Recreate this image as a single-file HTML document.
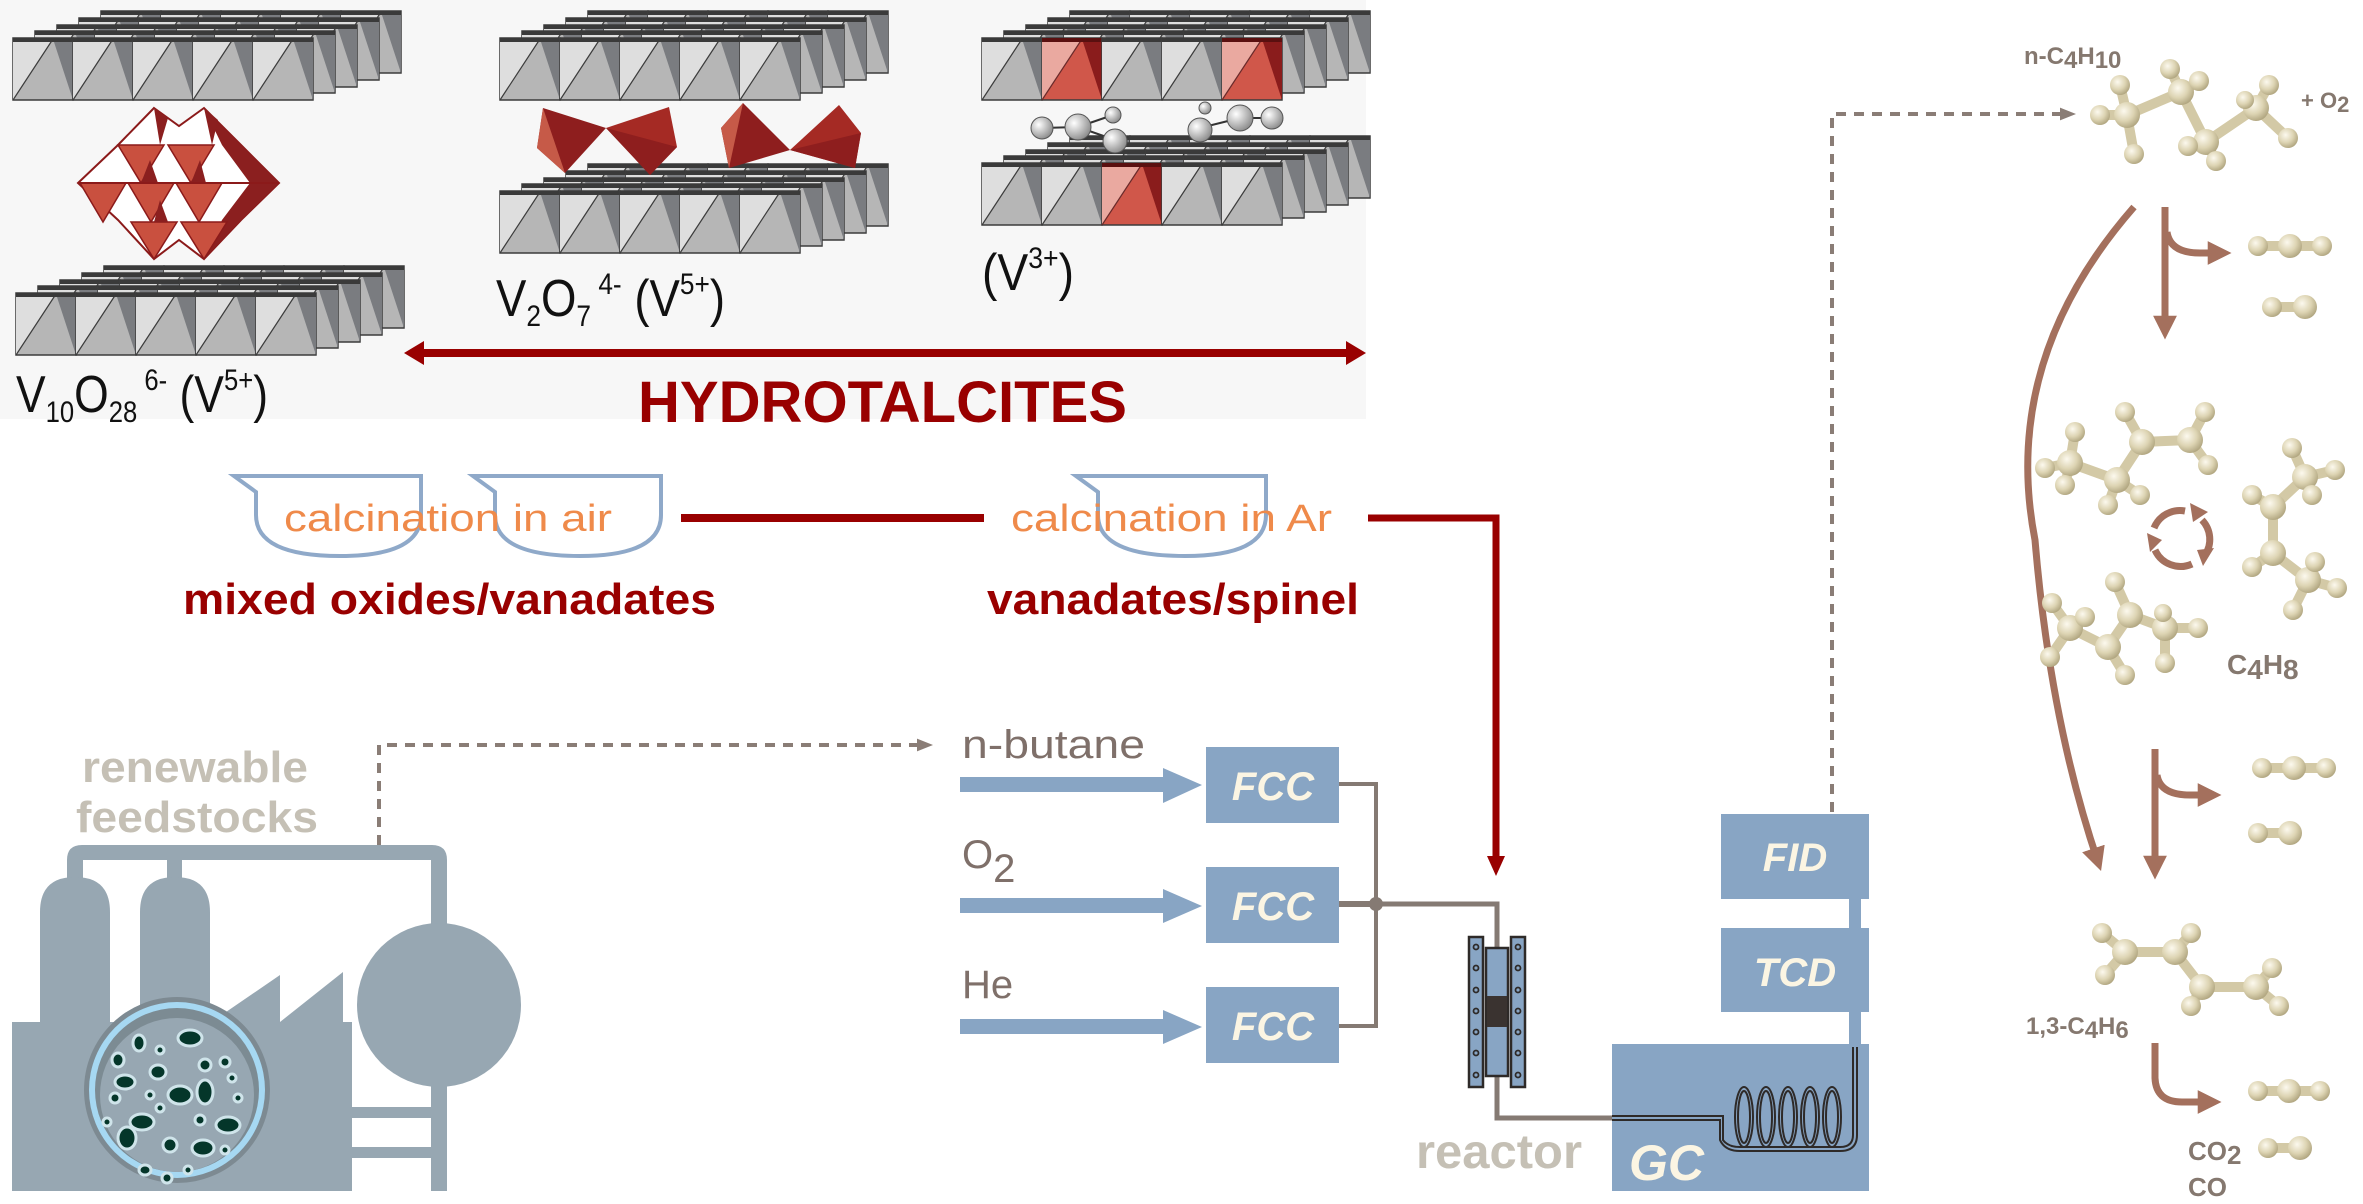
<!DOCTYPE html>
<html><head><meta charset="utf-8"><style>
html,body{margin:0;padding:0;background:#fff}
svg{display:block}
text{font-family:"Liberation Sans",Arial,sans-serif}
</style></head><body>
<svg width="2363" height="1204" viewBox="0 0 2363 1204" xmlns="http://www.w3.org/2000/svg">
<defs>
<g id="b"><rect width="60" height="62" fill="#b6b6b6" stroke="#3c3c3c" stroke-width="1.5"/><polygon points="0,62 0,1 40,1" fill="#dedede"/><polygon points="40,1 60,1 60,62" fill="#7a7c80"/><line x1="0" y1="62" x2="40" y2="1" stroke="#3c3c3c" stroke-width="1.2"/><rect width="60" height="4" fill="#3a3a3a"/></g>
<g id="r"><rect width="60" height="62" fill="#d0574a" stroke="#3c3c3c" stroke-width="1.5"/><polygon points="0,62 0,1 40,1" fill="#eaa9a0"/><polygon points="40,1 60,1 60,62" fill="#8a1c1c"/><line x1="0" y1="62" x2="40" y2="1" stroke="#6a2a2a" stroke-width="1.2"/><rect width="60" height="4" fill="#5a1010"/></g>
<g id="row"><use href="#b"/><use href="#b" x="60"/><use href="#b" x="120"/><use href="#b" x="180"/><use href="#b" x="240"/></g>
<g id="back"><use href="#row" x="88" y="-27"/><use href="#row" x="66" y="-20"/><use href="#row" x="44" y="-13"/><use href="#row" x="22" y="-7"/></g>
<g id="sheet"><use href="#back"/><use href="#row"/></g>
<radialGradient id="a" cx=".38" cy=".35" r=".7"><stop offset="0" stop-color="#fcf9ee"/><stop offset=".55" stop-color="#ddd4b3"/><stop offset="1" stop-color="#ada27c"/></radialGradient>
<radialGradient id="gb" cx=".35" cy=".35" r=".7"><stop offset="0" stop-color="#ffffff"/><stop offset="1" stop-color="#8a8a8a"/></radialGradient>
<marker id="ah" viewBox="0 0 10 10" refX="6" refY="5" markerWidth="3.4" markerHeight="3.4" orient="auto"><path d="M0,0 L10,5 L0,10 Z" fill="#a4705d"/></marker>
<marker id="dh" viewBox="0 0 10 10" refX="5" refY="5" markerWidth="4" markerHeight="4" orient="auto"><path d="M0,1 L10,5 L0,9 Z" fill="#8a7d76"/></marker>
</defs>

<rect x="0" y="0" width="1366" height="419" fill="#f7f7f7"/>

<use href="#sheet" x="13" y="38"/>
<use href="#sheet" x="16" y="293"/>
<use href="#sheet" x="500" y="38"/>
<use href="#sheet" x="500" y="191"/>
<use href="#back" x="982" y="38"/>
<g transform="translate(982,38)"><use href="#b"/><use href="#r" x="60"/><use href="#b" x="120"/><use href="#b" x="180"/><use href="#r" x="240"/></g>

<!-- octahedra cluster -->
<polygon points="154,108 179,126 204,108 241,145 279,183 241,220 204,259 179,240 154,259 118,220 78,183 118,145" fill="#fff" stroke="#8b1a1a" stroke-width="2"/>
<polygon points="204,108 241,145 279,183 241,220 204,259 222,220 250,183 222,145" fill="#8b1f1f"/>
<g fill="#c9503f" stroke="#8b1a1a" stroke-width="1.5">
<polygon points="118,145 164,145 141,183"/><polygon points="168,145 214,145 191,183"/>
<polygon points="80,183 126,183 103,222"/><polygon points="128,183 174,183 151,222"/><polygon points="176,183 222,183 199,222"/>
<polygon points="131,222 177,222 154,259"/><polygon points="181,222 227,222 204,259"/>
</g>
<g fill="#8b1f1f">
<polygon points="154,108 168,118 160,145"/><polygon points="204,108 218,120 212,145"/>
<polygon points="141,183 150,160 158,183"/><polygon points="191,183 200,160 206,183"/>
<polygon points="154,222 160,200 168,222"/>
</g>
<line x1="78" y1="183" x2="279" y2="183" stroke="#8b1a1a" stroke-width="2"/>

<!-- tetrahedra -->
<polygon points="543,108 606,128 565,173 537,148" fill="#8e1e1e"/>
<polygon points="543,108 565,173 537,148" fill="#c65a48"/>
<polygon points="606,128 669,107 677,147 650,175" fill="#a52a24"/>
<polygon points="606,128 677,147 650,175" fill="#8e1e1e"/>
<polygon points="743,103 790,150 729,168 721,128" fill="#8e1e1e"/>
<polygon points="743,103 729,168 721,128" fill="#c65a48"/>
<polygon points="790,150 839,105 861,133 855,168" fill="#a52a24"/>
<polygon points="790,150 861,133 855,168" fill="#8e1e1e"/>

<use href="#back" x="982" y="163"/>
<g transform="translate(982,163)"><use href="#b"/><use href="#b" x="60"/><use href="#r" x="120"/><use href="#b" x="180"/><use href="#b" x="240"/></g>
<g stroke="#333" stroke-width="2"><line x1="1042" y1="128" x2="1078" y2="127"/><line x1="1078" y1="127" x2="1113" y2="115"/><line x1="1078" y1="127" x2="1115" y2="140"/><line x1="1200" y1="128" x2="1240" y2="118"/><line x1="1240" y1="118" x2="1272" y2="118"/></g>
<g fill="url(#gb)" stroke="#555"><circle cx="1042" cy="128" r="11"/><circle cx="1078" cy="127" r="13"/><circle cx="1113" cy="115" r="8"/><circle cx="1115" cy="141" r="12"/><circle cx="1200" cy="130" r="12"/><circle cx="1240" cy="118" r="13"/><circle cx="1272" cy="118" r="11"/><circle cx="1205" cy="108" r="6"/></g>

<text x="16" y="412" font-size="52" fill="#111" textLength="252" lengthAdjust="spacingAndGlyphs">V<tspan font-size="30" dy="10">10</tspan><tspan dy="-10">O</tspan><tspan font-size="30" dy="10">28</tspan><tspan font-size="30" dy="-32"> 6-</tspan><tspan dy="22"> (V</tspan><tspan font-size="30" dy="-22">5+</tspan><tspan dy="22">)</tspan></text>
<text x="496" y="316" font-size="52" fill="#111" textLength="229" lengthAdjust="spacingAndGlyphs">V<tspan font-size="30" dy="10">2</tspan><tspan dy="-10">O</tspan><tspan font-size="30" dy="10">7</tspan><tspan font-size="30" dy="-32"> 4-</tspan><tspan dy="22"> (V</tspan><tspan font-size="30" dy="-22">5+</tspan><tspan dy="22">)</tspan></text>
<text x="982" y="290" font-size="52" fill="#111" textLength="92" lengthAdjust="spacingAndGlyphs">(V<tspan font-size="30" dy="-22">3+</tspan><tspan dy="22">)</tspan></text>

<line x1="415" y1="353" x2="1354" y2="353" stroke="#990000" stroke-width="8"/>
<polygon points="404,353 424,341 424,365" fill="#990000"/>
<polygon points="1366,353 1346,341 1346,365" fill="#990000"/>
<text x="638" y="422" font-size="58" font-weight="bold" fill="#990000" textLength="489" lengthAdjust="spacingAndGlyphs">HYDROTALCITES</text>

<g fill="none" stroke="#8fa9c9" stroke-width="4">
<path d="M234,476 L421,476 L421,515 Q421,556 340,556 Q256,556 256,515 L256,492 Z"/>
<path d="M473,476 L661,476 L661,515 Q661,556 580,556 Q495,556 495,515 L495,492 Z"/>
<path d="M1076,476 L1266,476 L1266,515 Q1266,556 1185,556 Q1098,556 1098,515 L1098,492 Z"/>
</g>
<text x="284" y="531" font-size="38" fill="#ef8a4a" textLength="328" lengthAdjust="spacingAndGlyphs">calcination in air</text>
<text x="1011" y="531" font-size="38" fill="#ef8a4a" textLength="321" lengthAdjust="spacingAndGlyphs">calcination in Ar</text>
<line x1="681" y1="518" x2="984" y2="518" stroke="#990000" stroke-width="8"/>
<polyline points="1368,518 1496,518 1496,860" fill="none" stroke="#990000" stroke-width="7"/>
<polygon points="1487,856 1505,856 1496,876" fill="#990000"/>
<text x="183" y="614" font-size="44" font-weight="bold" fill="#990000" textLength="533" lengthAdjust="spacingAndGlyphs">mixed oxides/vanadates</text>
<text x="987" y="614" font-size="44" font-weight="bold" fill="#990000" textLength="372" lengthAdjust="spacingAndGlyphs">vanadates/spinel</text>

<text x="82" y="782" font-size="44" font-weight="bold" fill="#c5c0b5" textLength="226" lengthAdjust="spacingAndGlyphs">renewable</text>
<text x="76" y="832" font-size="44" font-weight="bold" fill="#c5c0b5" textLength="242" lengthAdjust="spacingAndGlyphs">feedstocks</text>
<polyline points="379,845 379,745 925,745" fill="none" stroke="#8a7d76" stroke-width="4" stroke-dasharray="10,8" marker-end="url(#dh)"/>
<g fill="#97a7b2">
<path d="M67,860 Q67,845 82,845 L432,845 Q447,845 447,860 L447,925 L431,925 L431,860 L182,860 L182,880 L167,880 L167,860 L83,860 L83,880 L67,880 Z"/>
<path d="M40,1030 L40,912 Q40,877 75,877 Q110,877 110,912 L110,1030 Z"/>
<path d="M140,1030 L140,912 Q140,877 175,877 Q210,877 210,912 L210,1030 Z"/>
<path d="M12,1022 L226,1022 L226,1012 L280,975 L280,1022 L343,972 L343,1022 L352,1022 L352,1191 L12,1191 Z"/>
<circle cx="439" cy="1005" r="82"/>
<rect x="431" y="1080" width="16" height="111"/>
<rect x="352" y="1107" width="80" height="11"/>
<rect x="352" y="1147" width="80" height="11"/>
</g>
<circle cx="177" cy="1090" r="93" fill="#7d8a92"/>
<circle cx="177" cy="1090" r="88" fill="#a6d8f2"/>
<circle cx="177" cy="1090" r="82" fill="#7c8b93"/>
<circle cx="177" cy="1095" r="77" fill="#97a7b2"/>
<g fill="#04362a" stroke="#cfe4ea" stroke-width="3">
<ellipse cx="190" cy="1038" rx="12" ry="8"/><ellipse cx="139" cy="1043" rx="6" ry="8"/><ellipse cx="118" cy="1060" rx="6" ry="7"/><ellipse cx="160" cy="1050" rx="4" ry="4"/>
<ellipse cx="125" cy="1082" rx="10" ry="7"/><ellipse cx="158" cy="1072" rx="8" ry="7"/><ellipse cx="205" cy="1092" rx="8" ry="12"/><ellipse cx="180" cy="1095" rx="12" ry="9"/>
<ellipse cx="205" cy="1065" rx="6" ry="6"/><ellipse cx="225" cy="1062" rx="5" ry="5"/><ellipse cx="232" cy="1078" rx="4" ry="4"/>
<ellipse cx="142" cy="1122" rx="12" ry="8"/><ellipse cx="228" cy="1125" rx="12" ry="8"/><ellipse cx="127" cy="1138" rx="9" ry="11"/><ellipse cx="203" cy="1148" rx="11" ry="8"/>
<ellipse cx="170" cy="1145" rx="7" ry="7"/><ellipse cx="200" cy="1120" rx="5" ry="5"/><ellipse cx="115" cy="1098" rx="5" ry="5"/><ellipse cx="145" cy="1170" rx="6" ry="5"/>
<ellipse cx="167" cy="1178" rx="5" ry="5"/><ellipse cx="188" cy="1170" rx="4" ry="4"/><ellipse cx="107" cy="1122" rx="4" ry="4"/><ellipse cx="238" cy="1098" rx="4" ry="4"/>
<ellipse cx="160" cy="1108" rx="4" ry="4"/><ellipse cx="225" cy="1150" rx="4" ry="4"/><ellipse cx="150" cy="1095" rx="4" ry="4"/>
</g>

<g fill="#7f706a" font-size="40">
<text x="962" y="758" textLength="183" lengthAdjust="spacingAndGlyphs">n-butane</text>
<text x="962" y="868">O<tspan dy="14">2</tspan></text>
<text x="962" y="998">He</text>
</g>
<g fill="#88a5c4">
<rect x="960" y="777" width="207" height="15"/><polygon points="1163,768 1202,785 1163,803"/>
<rect x="960" y="898" width="207" height="15"/><polygon points="1163,889 1202,906 1163,923"/>
<rect x="960" y="1019" width="207" height="15"/><polygon points="1163,1010 1202,1027 1163,1044"/>
<rect x="1206" y="747" width="133" height="76"/>
<rect x="1206" y="867" width="133" height="76"/>
<rect x="1206" y="987" width="133" height="76"/>
<rect x="1721" y="814" width="148" height="85"/>
<rect x="1721" y="928" width="148" height="84"/>
<rect x="1849" y="895" width="12" height="40"/>
<rect x="1849" y="1008" width="12" height="40"/>
<rect x="1612" y="1044" width="257" height="147"/>
</g>
<g fill="#fbf5e3" font-size="40" font-weight="bold" font-style="italic" text-anchor="middle">
<text x="1273" y="800">FCC</text><text x="1273" y="920">FCC</text><text x="1273" y="1040">FCC</text>
<text x="1795" y="871">FID</text><text x="1795" y="986">TCD</text>
</g>
<text x="1629" y="1180" font-size="50" font-weight="bold" font-style="italic" fill="#fbf5e3">GC</text>
<text x="1416" y="1168" font-size="48" font-weight="bold" fill="#c5c0b5" textLength="166" lengthAdjust="spacingAndGlyphs">reactor</text>

<g fill="none" stroke="#857a73">
<polyline points="1339,784 1376,784 1376,1026 1339,1026" stroke-width="4"/>
<line x1="1339" y1="904" x2="1376" y2="904" stroke-width="6"/>
<polyline points="1376,904 1497,904 1497,948" stroke-width="5"/>
<polyline points="1497,1076 1497,1118 1612,1118" stroke-width="5"/>
</g>
<circle cx="1376" cy="904" r="7" fill="#857a73"/>
<g stroke="#2e2a28" stroke-width="2.5" fill="#88a5c4">
<rect x="1469" y="937" width="14" height="150"/><rect x="1511" y="937" width="14" height="150"/>
<rect x="1486" y="948" width="22" height="128"/>
</g>
<rect x="1487" y="996" width="20" height="31" fill="#3a3330"/>
<g fill="none" stroke="#2e2a28" stroke-width="1.8">
<circle cx="1476" cy="947" r="2.5"/><circle cx="1476" cy="968" r="2.5"/><circle cx="1476" cy="990" r="2.5"/><circle cx="1476" cy="1011" r="2.5"/><circle cx="1476" cy="1032" r="2.5"/><circle cx="1476" cy="1053" r="2.5"/><circle cx="1476" cy="1075" r="2.5"/>
<circle cx="1518" cy="947" r="2.5"/><circle cx="1518" cy="968" r="2.5"/><circle cx="1518" cy="990" r="2.5"/><circle cx="1518" cy="1011" r="2.5"/><circle cx="1518" cy="1032" r="2.5"/><circle cx="1518" cy="1053" r="2.5"/><circle cx="1518" cy="1075" r="2.5"/>
</g>
<g fill="none" stroke="#2e2a28" stroke-width="2">
<path d="M1612,1116 L1723,1116 L1723,1140 Q1728,1147 1740,1147 L1840,1147 Q1853,1147 1853,1135 L1853,1047"/>
<path d="M1612,1120 L1720,1120 L1720,1140 Q1725,1151 1740,1151 L1840,1151 Q1857,1151 1857,1135 L1857,1047"/>
<ellipse cx="1744" cy="1117" rx="9" ry="30"/><ellipse cx="1766" cy="1117" rx="9" ry="30"/><ellipse cx="1788" cy="1117" rx="9" ry="30"/><ellipse cx="1810" cy="1117" rx="9" ry="30"/><ellipse cx="1832" cy="1117" rx="9" ry="30"/>
<ellipse cx="1744" cy="1117" rx="6" ry="26"/><ellipse cx="1766" cy="1117" rx="6" ry="26"/><ellipse cx="1788" cy="1117" rx="6" ry="26"/><ellipse cx="1810" cy="1117" rx="6" ry="26"/><ellipse cx="1832" cy="1117" rx="6" ry="26"/>
</g>
<polyline points="1832,812 1832,114 2068,114" fill="none" stroke="#8a7d76" stroke-width="4" stroke-dasharray="10,8" marker-end="url(#dh)"/>

<g fill="#85786f" font-weight="bold">
<text x="2024" y="64" font-size="24">n-C<tspan dy="4">4</tspan><tspan dy="-4">H</tspan><tspan dy="4">10</tspan></text>
<text x="2301" y="108" font-size="22">+ O<tspan dy="4">2</tspan></text>
<text x="2227" y="674" font-size="28">C<tspan dy="5">4</tspan><tspan dy="-5">H</tspan><tspan dy="5">8</tspan></text>
<text x="2026" y="1034" font-size="24">1,3-C<tspan dy="4">4</tspan><tspan dy="-4">H</tspan><tspan dy="4">6</tspan></text>
<text x="2188" y="1160" font-size="26">CO<tspan dy="4">2</tspan></text>
<text x="2188" y="1196" font-size="26">CO</text>
</g>

<g fill="none" stroke="#a4705d" stroke-width="7" marker-end="url(#ah)">
<path d="M2134,207 Q2000,360 2035,540 Q2050,720 2098,862"/>
<line x1="2165" y1="207" x2="2165" y2="330"/>
<path d="M2167,232 Q2170,253 2200,253 L2222,253"/>
<line x1="2155" y1="749" x2="2155" y2="870"/>
<path d="M2157,775 Q2160,795 2190,795 L2212,795"/>
<path d="M2155,1043 L2155,1078 Q2156,1102 2182,1102 L2212,1102"/>
</g>
<g fill="none" stroke="#a4705d" stroke-width="7">
<path d="M2202,520 A28,28 0 0 1 2205,555"/><path d="M2192,564 A28,28 0 0 1 2155,550"/><path d="M2154,528 A28,28 0 0 1 2185,511"/>
</g>
<g fill="#a4705d"><polygon points="2190,503 2208,512 2193,522"/><polygon points="2214,548 2203,566 2197,550"/><polygon points="2150,552 2147,533 2162,540"/></g>

<g fill="none" stroke="#d3c9a6" stroke-width="10" stroke-linecap="round" stroke-linejoin="round">
<path d="M2100,115 L2127,115 L2181,92 L2206,142 L2256,108 L2288,138 M2127,115 L2134,154 M2127,115 L2120,85 M2181,92 L2170,69 M2181,92 L2199,81 M2206,142 L2188,146 M2206,142 L2216,161 M2256,108 L2269,85 M2256,108 L2245,100"/>
<path d="M2045,468 L2070,463 L2117,480 L2142,442 L2190,440 L2208,465 M2070,463 L2075,432 M2070,463 L2065,485 M2117,480 L2108,505 M2117,480 L2140,495 M2142,442 L2125,412 M2190,440 L2205,412"/>
<path d="M2292,448 L2305,477 L2335,470 M2305,477 L2312,495 M2305,477 L2273,507 L2252,495 M2273,507 L2273,553 L2252,567 M2273,553 L2308,580 L2315,562 M2308,580 L2337,588 M2308,580 L2293,610"/>
<path d="M2052,603 L2070,628 L2085,617 M2070,628 L2050,657 M2070,628 L2108,647 L2125,675 M2108,647 L2130,615 L2115,582 M2130,615 L2165,628 L2163,613 M2165,628 L2165,663 M2165,628 L2198,628"/>
<path d="M2102,933 L2125,952 L2105,975 M2125,952 L2175,952 L2191,933 M2175,952 L2202,987 L2191,1006 M2202,987 L2256,987 L2272,968 M2256,987 L2279,1006"/>
<path d="M2258,246 L2322,246 M2272,307 L2305,307 M2262,768 L2326,768 M2258,833 L2290,833 M2258,1091 L2320,1091 M2268,1148 L2300,1148"/>
</g>
<g fill="url(#a)">
<circle cx="2127" cy="115" r="13"/><circle cx="2181" cy="92" r="13"/><circle cx="2206" cy="142" r="13"/><circle cx="2256" cy="108" r="13"/>
<circle cx="2100" cy="115" r="10"/><circle cx="2134" cy="154" r="10"/><circle cx="2120" cy="85" r="10"/><circle cx="2170" cy="69" r="10"/><circle cx="2199" cy="81" r="10"/><circle cx="2188" cy="146" r="10"/><circle cx="2216" cy="161" r="10"/><circle cx="2269" cy="85" r="10"/><circle cx="2288" cy="138" r="10"/><circle cx="2245" cy="100" r="9"/>
<circle cx="2070" cy="463" r="13"/><circle cx="2117" cy="480" r="13"/><circle cx="2142" cy="442" r="13"/><circle cx="2190" cy="440" r="13"/>
<circle cx="2045" cy="468" r="10"/><circle cx="2075" cy="432" r="10"/><circle cx="2065" cy="485" r="10"/><circle cx="2108" cy="505" r="10"/><circle cx="2140" cy="495" r="10"/><circle cx="2125" cy="412" r="10"/><circle cx="2205" cy="412" r="10"/><circle cx="2208" cy="465" r="10"/>
<circle cx="2305" cy="477" r="13"/><circle cx="2273" cy="507" r="13"/><circle cx="2273" cy="553" r="13"/><circle cx="2308" cy="580" r="13"/>
<circle cx="2292" cy="448" r="10"/><circle cx="2335" cy="470" r="10"/><circle cx="2312" cy="495" r="10"/><circle cx="2252" cy="495" r="10"/><circle cx="2252" cy="567" r="10"/><circle cx="2315" cy="562" r="10"/><circle cx="2337" cy="588" r="10"/><circle cx="2293" cy="610" r="10"/>
<circle cx="2070" cy="628" r="13"/><circle cx="2108" cy="647" r="13"/><circle cx="2130" cy="615" r="13"/><circle cx="2165" cy="628" r="13"/>
<circle cx="2052" cy="603" r="10"/><circle cx="2085" cy="617" r="10"/><circle cx="2050" cy="657" r="10"/><circle cx="2125" cy="675" r="10"/><circle cx="2115" cy="582" r="10"/><circle cx="2163" cy="613" r="9"/><circle cx="2165" cy="663" r="10"/><circle cx="2198" cy="628" r="10"/>
<circle cx="2125" cy="952" r="13"/><circle cx="2175" cy="952" r="13"/><circle cx="2202" cy="987" r="13"/><circle cx="2256" cy="987" r="13"/>
<circle cx="2102" cy="933" r="10"/><circle cx="2105" cy="975" r="10"/><circle cx="2191" cy="933" r="10"/><circle cx="2191" cy="1006" r="10"/><circle cx="2272" cy="968" r="10"/><circle cx="2279" cy="1006" r="10"/>
<circle cx="2258" cy="246" r="10"/><circle cx="2290" cy="246" r="12"/><circle cx="2322" cy="246" r="10"/><circle cx="2272" cy="307" r="10"/><circle cx="2305" cy="307" r="12"/>
<circle cx="2262" cy="768" r="10"/><circle cx="2294" cy="768" r="12"/><circle cx="2326" cy="768" r="10"/><circle cx="2258" cy="833" r="10"/><circle cx="2290" cy="833" r="12"/>
<circle cx="2258" cy="1091" r="10"/><circle cx="2289" cy="1091" r="12"/><circle cx="2320" cy="1091" r="10"/><circle cx="2268" cy="1148" r="10"/><circle cx="2300" cy="1148" r="12"/>
</g>
</svg>
</body></html>
